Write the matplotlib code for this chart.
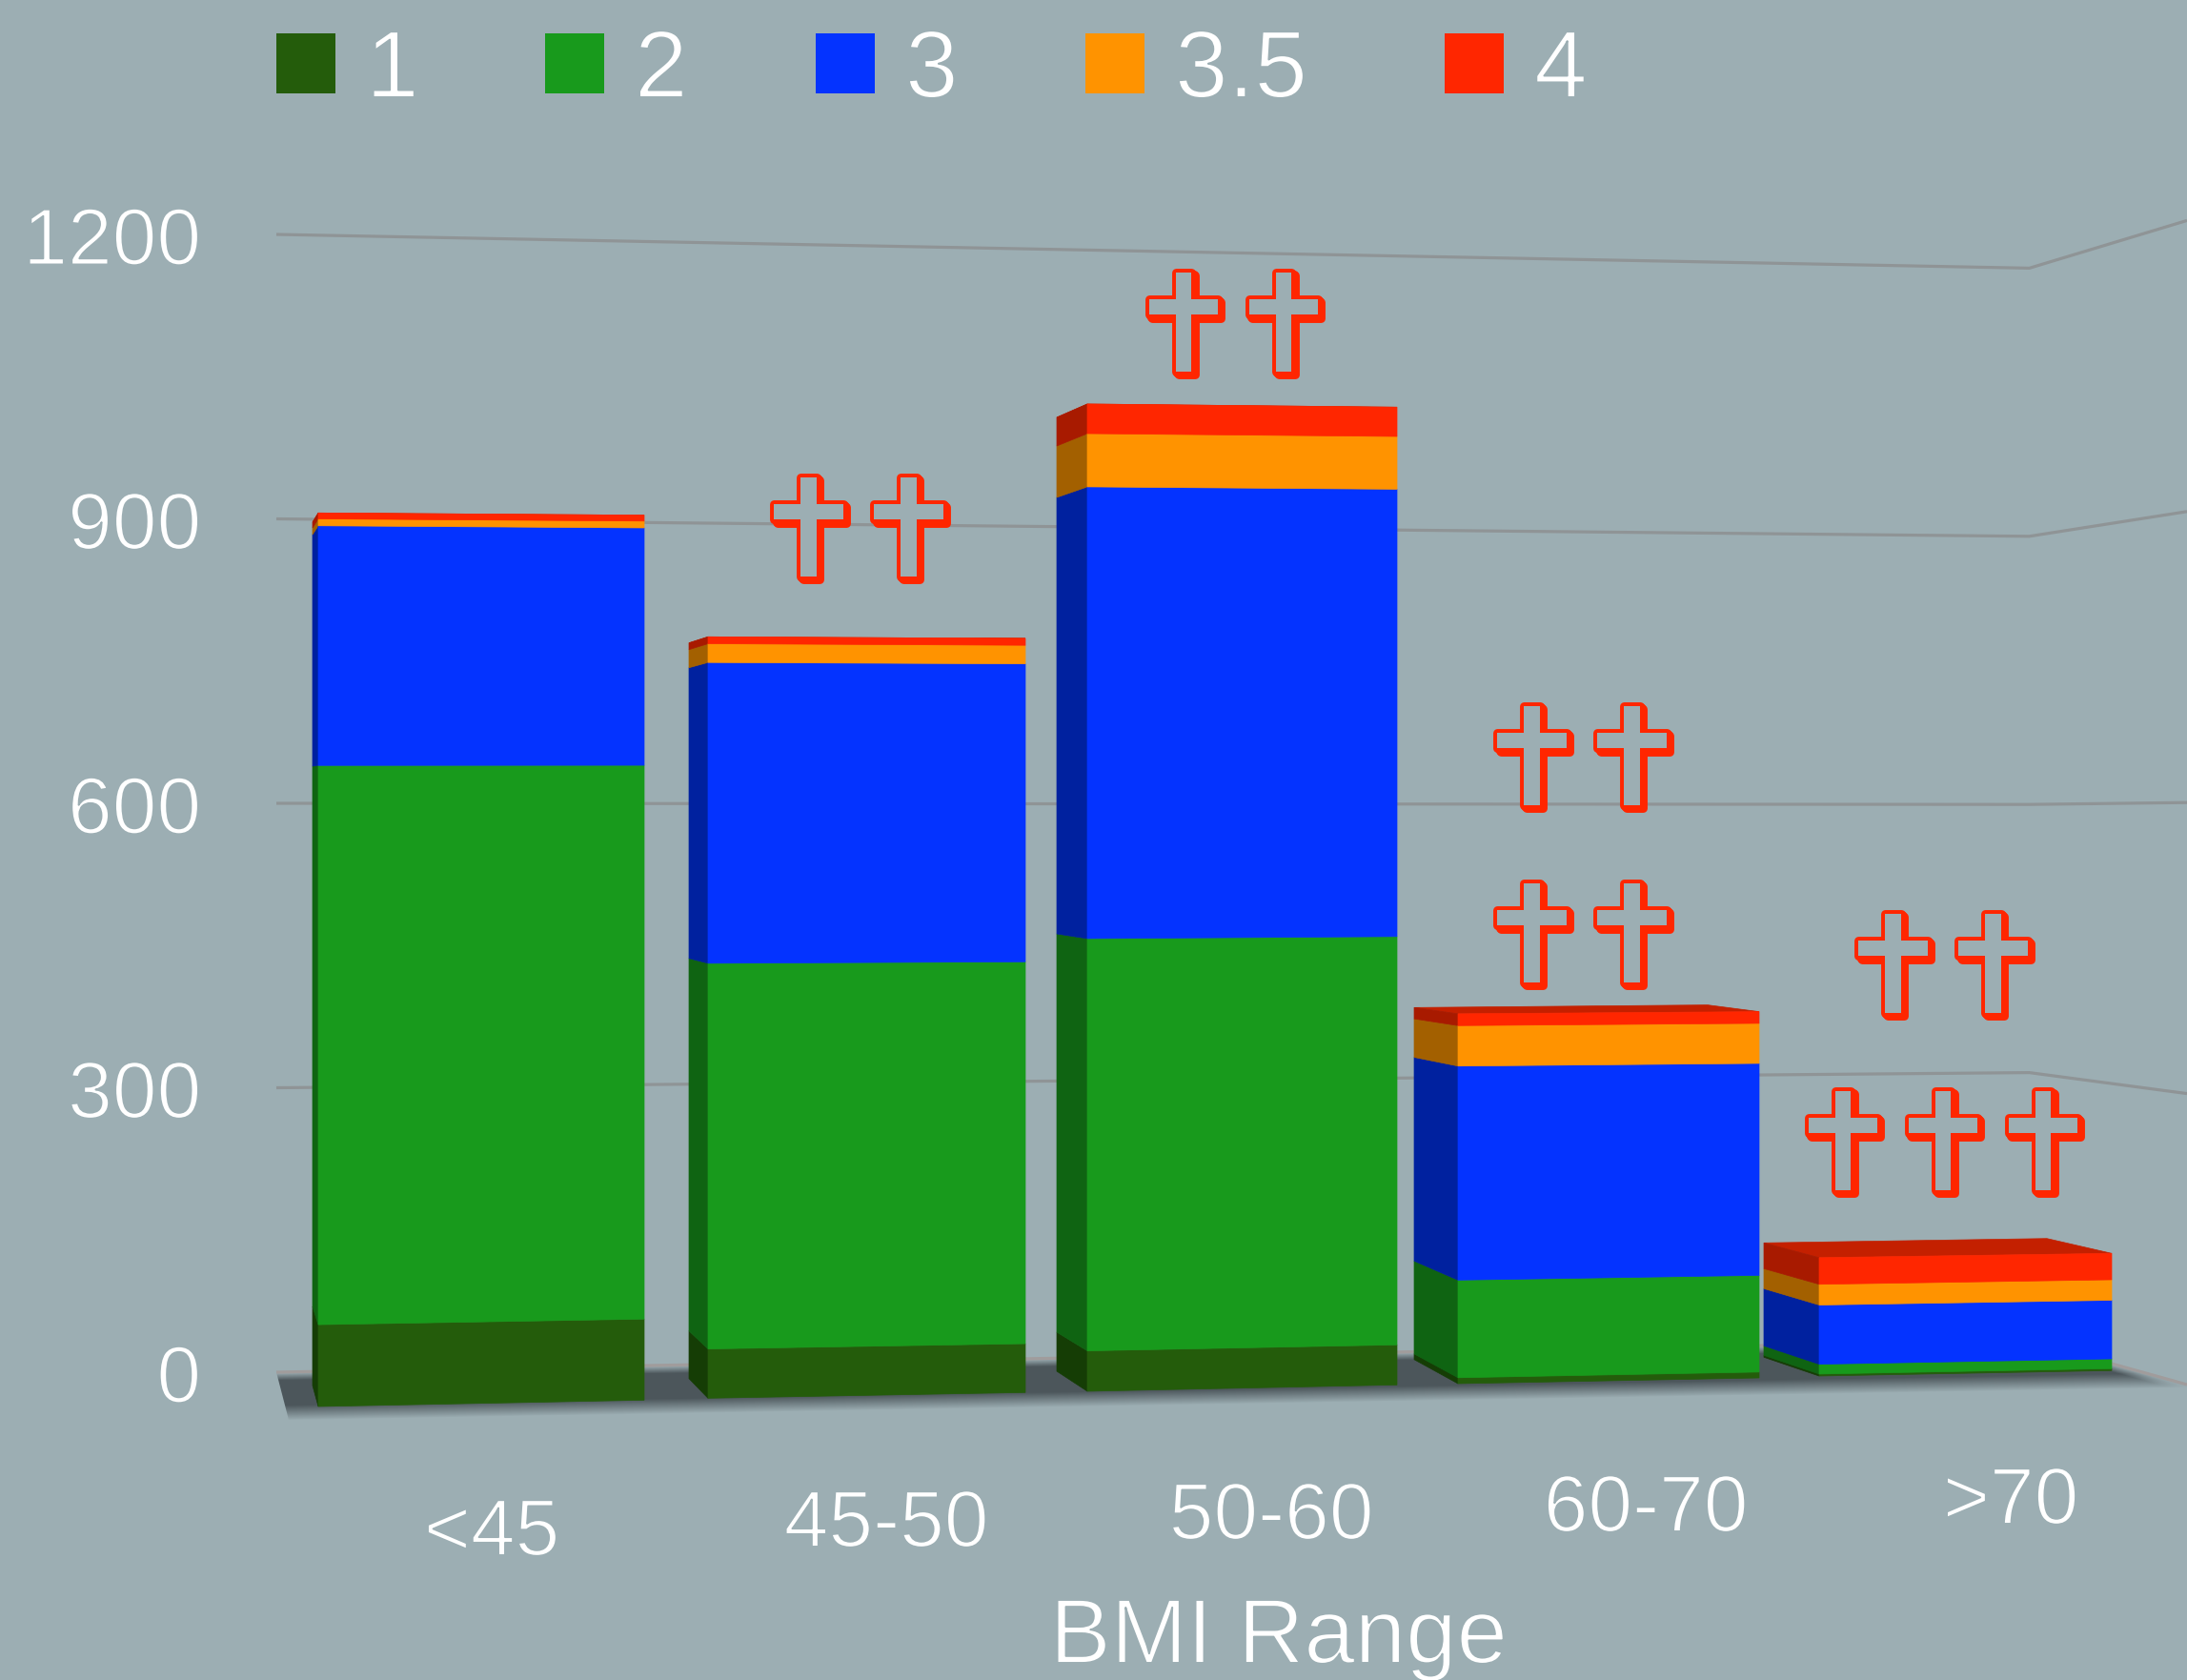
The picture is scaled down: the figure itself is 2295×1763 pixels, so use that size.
import numpy as np
import matplotlib
matplotlib.use("Agg")
import matplotlib.pyplot as plt
from matplotlib.patches import Polygon, Rectangle
from matplotlib import patheffects as pe

# Patient counts per BMI range, stacked by grade
categories = ["<45", "45-50", "50-60", "60-70", ">70"]
grades = ["1", "2", "3", "3.5", "4"]
grade_1 = [83, 50, 41, 6, 2]
grade_2 = [567, 391, 418, 99, 10]
grade_3 = [243, 305, 458, 217, 60]
grade_3_5 = [7, 19, 54, 41, 21]
grade_4 = [6, 7, 30, 12, 27]
y_ticks = [0, 300, 600, 900, 1200]
dagger_rows = [[], [2], [2], [2, 2], [2, 3]]

# Colours
BG = "#9caeb3"
FRONT = ["#245c0b", "#189a1c", "#0433ff", "#ff9300", "#ff2600"]
SIDE = ["#153d05", "#0f6412", "#00219f", "#a36000", "#a81a00"]
TOP_RED = "#c42000"
GRID = "#8f9496"
FLOOR = (0.30, 0.34, 0.36)
FONT = "Liberation Sans"

# Perspective layout of the boxes, in canvas pixels
front_left_x = [334, 743, 1141, 1530, 1909]
front_right_x = [676, 1076, 1466, 1846, 2216]
back_left_x = [328, 723, 1109, 1484, 1851]
back_right_x = [670, 1035, 1410, 1792, 2148]
base_left_y = [1476, 1467.3, 1460, 1452, 1444]
base_right_y = [1469.3, 1461.3, 1453.3, 1446, 1438.3]
back_base_left_y = [1454, 1446.7, 1439, 1426.7, 1424.3]
back_base_right_y = [1450, 1442, 1435, 1424, 1419.7]
back_scale = [1.0, 1.0, 1.0, 0.985, 1.0]
LEFT_SCALE, RIGHT_SCALE = 1.035, 1.025

# Back wall: x of each fold, y of value 0 and pixels per unit there
wall_x = [290, 2129.5, 2295]
wall_zero = [1440, 1407, 1453]
wall_scale = [0.995, 0.938, 1.018]

fig = plt.figure(figsize=(22.95, 17.63), dpi=100, facecolor=BG)
ax = fig.add_axes([0, 0, 1, 1])
ax.set_xlim(0, 2295)
ax.set_ylim(1763, 0)
ax.axis("off")

# Trim the regular glyphs down to a lighter stroke
LIGHTEN = [pe.Stroke(linewidth=1.4, foreground=BG)]


def px(size):
    return size * 72 / 100


# Floor: dark plane whose front edge fades into the background
floor_back_x = [290, 2129.5, 2295]
floor_back_y = [1440, 1407, 1453]
floor_front_x = [303, 2295]
floor_front_y = [1490, 1456]
xx, yy = np.meshgrid(np.arange(285, 2296), np.arange(1395, 1500))
back = np.interp(xx, floor_back_x, floor_back_y)
front = np.interp(xx, floor_front_x, floor_front_y)
fade_out = np.clip((front - yy) / 16, 0, 1)
fade_in = np.clip((yy - back) / 8, 0, 1)
rgba = np.zeros(xx.shape + (4,))
rgba[..., :3] = FLOOR
rgba[..., 3] = fade_out * fade_in
img = ax.imshow(rgba, extent=(285, 2296, 1500, 1395), origin="upper",
                aspect="auto", zorder=1, interpolation="bilinear")
clip = Polygon([(290, 1440), (2129.5, 1407), (2295, 1453), (2295, 1456), (303, 1490)],
               transform=ax.transData, fc="none", ec="none")
ax.add_patch(clip)
img.set_clip_path(clip)
ax.set_xlim(0, 2295)
ax.set_ylim(1763, 0)

# Gridlines on the folded back wall
for tick in y_ticks:
    ys = [z - s * tick for z, s in zip(wall_zero, wall_scale)]
    ax.plot(wall_x, ys, color="#a09c9c" if tick == 0 else GRID, lw=2.3, zorder=2,
            solid_capstyle="butt", solid_joinstyle="miter")
    ax.text(211, ys[0] + 9.5, str(tick), color="white", fontsize=px(84), family=FONT,
            ha="right", va="center", path_effects=LIGHTEN)

# Stacked boxes
series = [grade_1, grade_2, grade_3, grade_3_5, grade_4]
for i in range(len(categories)):
    edges = np.cumsum([0] + [s[i] for s in series])
    fl, fr = front_left_x[i], front_right_x[i]
    bl, br = back_left_x[i], back_right_x[i]
    total = edges[-1]
    top = [(bl, back_base_left_y[i] - back_scale[i] * total),
           (br, back_base_right_y[i] - back_scale[i] * total),
           (fr, base_right_y[i] - RIGHT_SCALE * total),
           (fl, base_left_y[i] - LEFT_SCALE * total)]
    ax.add_patch(Polygon(top, fc=TOP_RED, ec=TOP_RED, lw=0.5, zorder=3))
    for k in range(len(series)):
        lo, hi = edges[k], edges[k + 1]
        face = [(fl, base_left_y[i] - LEFT_SCALE * lo),
                (fr, base_right_y[i] - RIGHT_SCALE * lo),
                (fr, base_right_y[i] - RIGHT_SCALE * hi),
                (fl, base_left_y[i] - LEFT_SCALE * hi)]
        side = [(bl, back_base_left_y[i] - back_scale[i] * lo),
                (fl, base_left_y[i] - LEFT_SCALE * lo),
                (fl, base_left_y[i] - LEFT_SCALE * hi),
                (bl, back_base_left_y[i] - back_scale[i] * hi)]
        ax.add_patch(Polygon(side, fc=SIDE[k], ec=SIDE[k], lw=0.5, zorder=4))
        ax.add_patch(Polygon(face, fc=FRONT[k], ec=FRONT[k], lw=0.5, zorder=5))

# Category labels and axis title
label_x = [516, 930, 1334, 1727, 2110]
label_y = [1610, 1601, 1593, 1585, 1577]
for name, x, y in zip(categories, label_x, label_y):
    ax.text(x, y, name, color="white", fontsize=px(84), family=FONT,
            ha="center", va="center", path_effects=LIGHTEN)
ax.text(1342, 1745, "BMI Range", color="white", fontsize=px(96), family=FONT,
        ha="center", va="baseline", path_effects=LIGHTEN)

# Legend
legend_x = [290, 572, 856, 1139, 1516]
for name, colour, x in zip(grades, FRONT, legend_x):
    ax.add_patch(Rectangle((x, 35), 62, 63, fc=colour, ec="none", zorder=6))
    ax.text(x + 94, 76, name, color="white", fontsize=px(100), family=FONT,
            ha="left", va="center", path_effects=LIGHTEN)

# Significance daggers with an extruded red outline
RED = FRONT[4]
extrude = [pe.Stroke(linewidth=6.4, foreground=RED, offset=(d, -d)) for d in (2.4, 1.6, 0.8, 0.0)]
extrude.append(pe.Normal())
dagger_x = [None, 901, 1294.5, 1660, 2039]
dagger_y = [[], [565], [350], [805, 991], [1023, 1209]]
DAGGER_STEP = 105
for counts, cx, rows in zip(dagger_rows, dagger_x, dagger_y):
    for n, cy in zip(counts, rows):
        for j in range(n):
            x = cx + (j - (n - 1) / 2) * DAGGER_STEP
            ax.text(x, cy, "\u271d", color=BG, fontsize=px(142), family="DejaVu Sans",
                    ha="center", va="center", zorder=7, path_effects=extrude)

fig.savefig("out.png", dpi=100, facecolor=BG)
